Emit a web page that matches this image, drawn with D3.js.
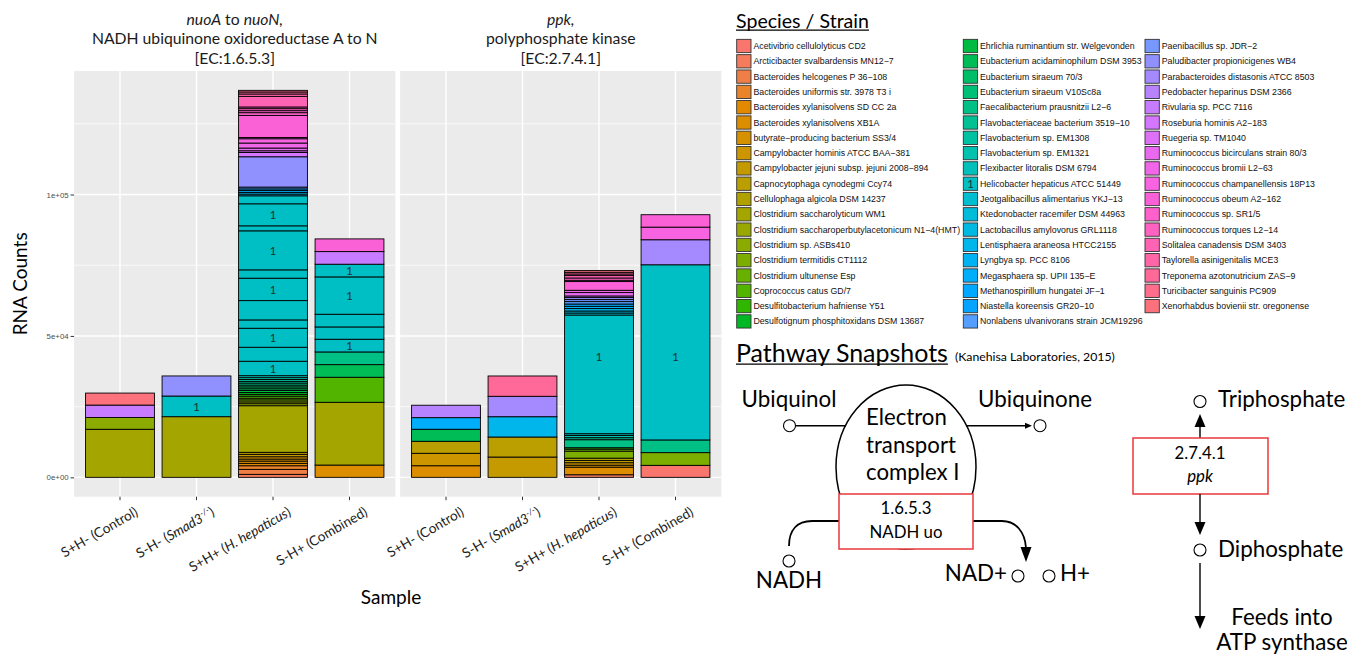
<!DOCTYPE html>
<html>
<head>
<meta charset="utf-8">
<script src="https://cdn.jsdelivr.net/npm/d3@7"></script>
<style>
  html, body { margin: 0; padding: 0; background: #fff; }
  svg { display: block; }
</style>
</head>
<body>
<svg id="fig" width="1347" height="656"></svg>
<script>
// ---------------------------------------------------------------
// Species (fill levels, in legend order)
const species = [
  "Acetivibrio cellulolyticus CD2",
  "Arcticibacter svalbardensis MN12\u22127",
  "Bacteroides helcogenes P 36\u2212108",
  "Bacteroides uniformis str. 3978 T3 i",
  "Bacteroides xylanisolvens SD CC 2a",
  "Bacteroides xylanisolvens XB1A",
  "butyrate\u2212producing bacterium SS3/4",
  "Campylobacter hominis ATCC BAA\u2212381",
  "Campylobacter jejuni subsp. jejuni 2008\u2212894",
  "Capnocytophaga cynodegmi Ccy74",
  "Cellulophaga algicola DSM 14237",
  "Clostridium saccharolyticum WM1",
  "Clostridium saccharoperbutylacetonicum N1\u22124(HMT)",
  "Clostridium sp. ASBs410",
  "Clostridium termitidis CT1112",
  "Clostridium ultunense Esp",
  "Coprococcus catus GD/7",
  "Desulfitobacterium hafniense Y51",
  "Desulfotignum phosphitoxidans DSM 13687",
  "Ehrlichia ruminantium str. Welgevonden",
  "Eubacterium acidaminophilum DSM 3953",
  "Eubacterium siraeum 70/3",
  "Eubacterium siraeum V10Sc8a",
  "Faecalibacterium prausnitzii L2\u22126",
  "Flavobacteriaceae bacterium 3519\u221210",
  "Flavobacterium sp. EM1308",
  "Flavobacterium sp. EM1321",
  "Flexibacter litoralis DSM 6794",
  "Helicobacter hepaticus ATCC 51449",
  "Jeotgalibacillus alimentarius YKJ\u221213",
  "Ktedonobacter racemifer DSM 44963",
  "Lactobacillus amylovorus GRL1118",
  "Lentisphaera araneosa HTCC2155",
  "Lyngbya sp. PCC 8106",
  "Megasphaera sp. UPII 135\u2212E",
  "Methanospirillum hungatei JF\u22121",
  "Niastella koreensis GR20\u221210",
  "Nonlabens ulvanivorans strain JCM19296",
  "Paenibacillus sp. JDR\u22122",
  "Paludibacter propionicigenes WB4",
  "Parabacteroides distasonis ATCC 8503",
  "Pedobacter heparinus DSM 2366",
  "Rivularia sp. PCC 7116",
  "Roseburia hominis A2\u2212183",
  "Ruegeria sp. TM1040",
  "Ruminococcus bicirculans strain 80/3",
  "Ruminococcus bromii L2\u221263",
  "Ruminococcus champanellensis 18P13",
  "Ruminococcus obeum A2\u2212162",
  "Ruminococcus sp. SR1/5",
  "Ruminococcus torques L2\u221214",
  "Solitalea canadensis DSM 3403",
  "Taylorella asinigenitalis MCE3",
  "Treponema azotonutricium ZAS\u22129",
  "Turicibacter sanguinis PC909",
  "Xenorhabdus bovienii str. oregonense"
];
const labelledSpecies = 28;   // Helicobacter hepaticus, marked "1"

// Samples (x categories)
const samples = ["S+H- (Control)", "S-H- (Smad3-/-)", "S+H+ (H. hepaticus)", "S-H+ (Combined)"];

// Y axis ticks
const yTicks = [0, 50000, 100000];
const yTickLabels = ["0e+00", "5e+04", "1e+05"];
const yMinorTicks = [25000, 75000, 125000];

// RNA counts per sample, one row per gene/species record, bottom to top:
// [species index, count, label]  label: true = centred "1", number = "1" at that count
const nuoControl = [[11,17000],[13,4150],[42,4400],[55,4250]];
const nuoSmad = [[11,21450],[28,7300,true],[39,7100]];
const nuoHh = [
  [1,1060],[2,1770],[3,1270],[4,850],[5,810],[6,710],[7,810],[8,850],[9,710],[11,16490],
  [12,710],[13,640],[14,710],[15,600],[16,710],[17,640],[18,670],[19,710],[20,600],[21,670],
  [22,640],[23,710],[24,600],[25,670],[26,640],[27,700],
  [28,5100,true],[28,4950],[28,6720,true],[28,2940],[28,6830],[28,7930,true],[28,2940],
  [28,13800,true],[28,1770],[28,7790,true],[28,2830],
  [31,600],[33,600],[34,640],[35,600],[37,640],[39,10720],
  [43,1520],[44,600],[45,960],[46,1770],[47,1520],[47,460],[48,7790],[49,960],[49,710],
  [50,710],[50,600],[51,3750],[52,850],[53,710],[54,570]
];
const nuoCombined = [[5,4350],[11,22190],[16,8850],[20,4460],[23,4490],[28,4490,true],[28,4350],
  [28,4490],[28,13200,true],[28,4490,true],[42,4460],[48,4490]];

const ppkControl = [[5,4110],[7,4390],[9,4250],[20,4250],[34,4110],[41,4390]];
const ppkSmad = [[8,7180],[9,7080],[32,7180],[40,7220],[53,7180]];
const ppkHh = [
  [1,920],[5,2690],[6,710],[7,850],[9,810],[10,810],[14,2480],[15,710],[17,500],[23,2830],
  [24,710],[26,810],[27,600],[28,41970,42600],[29,710],[30,710],[32,850],[33,810],[35,810],
  [37,850],[38,710],[39,710],[43,570],[45,1200],[46,810],[48,3080],[49,460],[50,810],
  [51,850],[52,570],[53,600],[55,600]
];
const ppkCombined = [[0,4250],[14,4490],[23,4490],[28,61930,42500],[40,8850],[47,4460],[48,4390]];

const nuoBars = [nuoControl, nuoSmad, nuoHh, nuoCombined];
const ppkBars = [ppkControl, ppkSmad, ppkHh, ppkCombined];

// Facet titles: [text, italic?] runs per line
const nuoTitle = [[["nuoA", true], [" to "], ["nuoN,", true]], [["NADH ubiquinone oxidoreductase A to N"]], [["[EC:1.6.5.3]"]]];
const ppkTitle = [[["ppk,", true]], [["polyphosphate kinase"]], [["[EC:2.7.4.1]"]]];

// Sample axis labels as styled runs: [text, style] (i = italic, sup = superscript)
const sampleRuns = [
  [["S+H- (Control)"]],
  [["S-H- ("], ["Smad3", "i"], ["-/-", "sup"], [")"]],
  [["S+H+ ("], ["H. hepaticus", "i"], [")"]],
  [["S-H+ (Combined)"]]
];

// ---------------------------------------------------------------
// ggplot2-style hue palette (polar Luv, as grDevices::hcl)
function hclLuv(h, c, l) {
  const WY = 100, Wu = 0.1978398, Wv = 0.4683363;
  const hr = h * Math.PI / 180;
  const U = c * Math.cos(hr), V = c * Math.sin(hr);
  const Y = WY * (l > 7.999592 ? Math.pow((l + 16) / 116, 3) : l / 903.3);
  const u = U / (13 * l) + Wu, v = V / (13 * l) + Wv;
  const X = 9 * Y * u / (4 * v);
  const Z = -X / 3 - 5 * Y + 3 * Y / v;
  const g = t => t > 0.00304 ? 1.055 * Math.pow(t, 1 / 2.4) - 0.055 : 12.92 * t;
  const cl = t => Math.max(0, Math.min(255, Math.round(255 * g(t))));
  const r = cl(( 3.240479 * X - 1.537150 * Y - 0.498535 * Z) / WY);
  const gg = cl((-0.969256 * X + 1.875992 * Y + 0.041556 * Z) / WY);
  const b = cl(( 0.055648 * X - 0.204043 * Y + 1.057311 * Z) / WY);
  return d3.rgb(r, gg, b).formatHex();
}
const hues = d3.range(species.length).map(i => 15 + 360 * i / species.length);
const fill = d3.scaleOrdinal().domain(d3.range(species.length)).range(hues.map(h => hclLuv(h, 100, 65)));

// ---------------------------------------------------------------
const svg = d3.select("#fig");
const FONT = "Lato, 'Open Sans', sans-serif";
const SANS = "'Liberation Sans', Arial, sans-serif";

// font size that gives a string a certain rendered width
const meas = svg.append("text").attr("x", -1000).attr("y", -1000);
function fitSize(str, family, width, style) {
  meas.attr("font-family", family).attr("font-size", 100).attr("font-style", style || "normal").text(str);
  return 100 * width / meas.node().getComputedTextLength();
}
const stripFS = fitSize("NADH ubiquinone oxidoreductase A to N", FONT, 286);
const axisTitleFS = fitSize("RNA Counts", FONT, 103);
const tickFS = fitSize("S+H- (Control)", FONT, 86);
const yTickFS = fitSize("1e+05", SANS, 22);
const legTitleFS = fitSize("Species / Strain", FONT, 133);
const legLabelFS = fitSize(species[12], SANS, 207);
const pathTitleFS = fitSize("Pathway Snapshots", FONT, 212);
const kanFS = fitSize("(Kanehisa Laboratories, 2015)", FONT, 160);
const diagFS = fitSize("Ubiquinone", FONT, 114);
const etcFS = fitSize("transport", FONT, 90);
const boxFS = fitSize("NADH uo", FONT, 73);
meas.remove();

// ---------------------------------------------------------------
// Faceted stacked bars
const panelTop = 71, panelBottom = 496.7;
const panelRanges = [[74.1, 395.4], [400.1, 721.4]];
const allBars = nuoBars.concat(ppkBars);
const yMax = d3.max(allBars, b => d3.sum(b, s => s[1]));
const y = d3.scaleLinear().domain([-0.05 * yMax, 1.05 * yMax]).range([panelBottom, panelTop]);

const facets = [
  { title: nuoTitle, bars: nuoBars, range: panelRanges[0] },
  { title: ppkTitle, bars: ppkBars, range: panelRanges[1] }
];

facets.forEach((f, pi) => {
  const x = d3.scaleBand().domain(samples).range(f.range).paddingInner(0.1).paddingOuter(0.15);
  const g = svg.append("g");
  const [x0, x1] = f.range;

  g.append("rect").attr("x", x0).attr("y", panelTop).attr("width", x1 - x0)
    .attr("height", panelBottom - panelTop).attr("fill", "#EBEBEB");

  g.selectAll("line.minor").data(yMinorTicks).join("line")
    .attr("x1", x0).attr("x2", x1).attr("y1", d => y(d)).attr("y2", d => y(d))
    .attr("stroke", "#fff").attr("stroke-width", 0.7);
  g.selectAll("line.major").data(yTicks).join("line")
    .attr("x1", x0).attr("x2", x1).attr("y1", d => y(d)).attr("y2", d => y(d))
    .attr("stroke", "#fff").attr("stroke-width", 1.4);
  g.selectAll("line.vmajor").data(samples).join("line")
    .attr("x1", d => x(d) + x.bandwidth() / 2).attr("x2", d => x(d) + x.bandwidth() / 2)
    .attr("y1", panelTop).attr("y2", panelBottom)
    .attr("stroke", "#fff").attr("stroke-width", 1.4);

  // bars
  f.bars.forEach((segs, si) => {
    const ends = Array.from(d3.cumsum(segs, s => s[1]));
    const rows = segs.map((s, k) => ({ sp: s[0], v: s[1], lab: s[2], y0: ends[k] - s[1], y1: ends[k] }));
    const bg = g.append("g");
    bg.selectAll("rect").data(rows).join("rect")
      .attr("x", x(samples[si])).attr("width", x.bandwidth())
      .attr("y", d => y(d.y1)).attr("height", d => y(d.y0) - y(d.y1))
      .attr("fill", d => fill(d.sp))
      .attr("stroke", "#000").attr("stroke-width", 0.9);
    bg.selectAll("text").data(rows.filter(d => d.lab)).join("text")
      .attr("x", x(samples[si]) + x.bandwidth() / 2)
      .attr("y", d => y(typeof d.lab === "number" ? d.lab : (d.y0 + d.y1) / 2))
      .attr("dy", "0.36em").attr("text-anchor", "middle")
      .attr("font-family", FONT).attr("font-size", 12).attr("fill", "#1d3535")
      .text("1");
  });

  // x axis ticks
  const xAxis = d3.axisBottom(x).tickSize(3.5).tickSizeOuter(0).tickFormat("");
  const ax = svg.append("g").attr("transform", `translate(0,${panelBottom})`).call(xAxis);
  ax.select(".domain").remove();
  ax.selectAll("line").attr("stroke", "#333").attr("stroke-width", 1);

  // rotated sample labels
  samples.forEach((s, si) => {
    const cx = x(s) + x.bandwidth() / 2;
    const t = svg.append("text")
      .attr("transform", `translate(${cx + 19},${panelBottom + 18}) rotate(-30)`)
      .attr("text-anchor", "end").attr("font-family", FONT).attr("font-size", tickFS)
      .attr("fill", "#222");
    let lift = 0;
    sampleRuns[si].forEach(r => {
      const ts = t.append("tspan").text(r[0]);
      if (r[1] === "i" || r[1] === "sup") ts.attr("font-style", "italic");
      if (r[1] === "sup") { ts.attr("font-size", tickFS * 0.62).attr("dy", -tickFS * 0.38); lift = tickFS * 0.38; }
      else if (lift) { ts.attr("dy", lift); lift = 0; }
    });
  });

  // facet title
  const cx = (x0 + x1) / 2;
  f.title.forEach((line, li) => {
    const t = svg.append("text").attr("x", cx).attr("y", 25 + li * 19.4)
      .attr("text-anchor", "middle").attr("font-family", FONT).attr("font-size", stripFS)
      .attr("fill", "#1a1a1a");
    line.forEach(r => {
      const ts = t.append("tspan").text(r[0]);
      if (r[1]) ts.attr("font-style", "italic");
    });
  });

  // y axis on first facet only
  if (pi === 0) {
    const yAxis = d3.axisLeft(y).tickValues(yTicks).tickFormat((d, i) => yTickLabels[i])
      .tickSize(3.5).tickPadding(2);
    const ay = svg.append("g").attr("transform", `translate(${x0},0)`).call(yAxis);
    ay.select(".domain").remove();
    ay.selectAll("line").attr("stroke", "#333");
    ay.selectAll("text").attr("font-family", SANS).attr("font-size", yTickFS).attr("fill", "#4D4D4D");
  }
});

// axis titles
svg.append("text").attr("transform", `translate(27,${(panelTop + panelBottom) / 2}) rotate(-90)`)
  .attr("text-anchor", "middle").attr("font-family", FONT).attr("font-size", axisTitleFS)
  .attr("fill", "#000").text("RNA Counts");
svg.append("text").attr("x", 391).attr("y", 604)
  .attr("text-anchor", "middle").attr("font-family", FONT).attr("font-size", axisTitleFS)
  .attr("fill", "#000").text("Sample");

// ---------------------------------------------------------------
// Legend
function underlinedTitle(x, yb, str, fs) {
  const t = svg.append("text").attr("x", x).attr("y", yb).attr("font-family", FONT)
    .attr("font-size", fs).attr("fill", "#000").text(str);
  const w = t.node().getComputedTextLength();
  svg.append("line").attr("x1", x).attr("x2", x + w).attr("y1", yb + 2.6).attr("y2", yb + 2.6)
    .attr("stroke", "#000").attr("stroke-width", 1.3);
  return w;
}
underlinedTitle(736, 27.5, "Species / Strain", legTitleFS);

const colStarts = [0, 19, 38];
const colX = [736.7, 963.3, 1145];
const keyW = 14.3, rowH = 15.3, firstRow = 46;
const leg = svg.append("g");
species.forEach((name, i) => {
  const col = i < 19 ? 0 : (i < 38 ? 1 : 2);
  const row = i - colStarts[col];
  const cy = firstRow + row * rowH;
  leg.append("rect").attr("x", colX[col]).attr("y", cy - keyW / 2 + 0.5)
    .attr("width", keyW).attr("height", keyW - 1)
    .attr("fill", fill(i)).attr("stroke", "#333").attr("stroke-width", 0.9);
  if (i === labelledSpecies) {
    leg.append("text").attr("x", colX[col] + keyW / 2).attr("y", cy).attr("dy", "0.36em")
      .attr("text-anchor", "middle").attr("font-family", FONT).attr("font-size", 12)
      .attr("fill", "#1d3535").text("1");
  }
  leg.append("text").attr("x", colX[col] + keyW + 2.4).attr("y", cy).attr("dy", "0.35em")
    .attr("font-family", SANS).attr("font-size", legLabelFS).attr("fill", "#111").text(name);
});

// ---------------------------------------------------------------
// Pathway snapshots
const pw = underlinedTitle(736, 361.5, "Pathway Snapshots", pathTitleFS);
svg.append("text").attr("x", 736 + pw + 7).attr("y", 360.5).attr("font-family", FONT)
  .attr("font-size", kanFS).attr("fill", "#000").text("(Kanehisa Laboratories, 2015)");

const dg = svg.append("g");
const ink = "#000", red = "#E8383D";
function txt(x, yb, str, fs, anchor, italic) {
  return dg.append("text").attr("x", x).attr("y", yb).attr("font-family", FONT)
    .attr("font-size", fs).attr("text-anchor", anchor || "start")
    .attr("font-style", italic ? "italic" : "normal").attr("fill", ink).text(str);
}
function circ(cx, cy) {
  dg.append("circle").attr("cx", cx).attr("cy", cy).attr("r", 6)
    .attr("fill", "#fff").attr("stroke", ink).attr("stroke-width", 1.1);
}
function line(pts) {
  dg.append("path").attr("d", d3.line()(pts)).attr("fill", "none")
    .attr("stroke", ink).attr("stroke-width", 1.4);
}
function head(tx, ty, dir, len, wid) {
  // dir: "r", "u", "d"
  let p;
  if (dir === "r") p = [[tx, ty], [tx - len, ty - wid / 2], [tx - len, ty + wid / 2]];
  else if (dir === "u") p = [[tx, ty], [tx - wid / 2, ty + len], [tx + wid / 2, ty + len]];
  else p = [[tx, ty], [tx - wid / 2, ty - len], [tx + wid / 2, ty - len]];
  dg.append("path").attr("d", d3.line()(p) + "Z").attr("fill", ink);
}

// complex I
dg.append("ellipse").attr("cx", 906).attr("cy", 467).attr("rx", 70).attr("ry", 82)
  .attr("fill", "#fff").attr("stroke", ink).attr("stroke-width", 1.5);
line([[796, 425.7], [846, 425.7]]);
line([[966, 425.7], [1027, 425.7]]);
head(1032, 425.7, "r", 7, 6);
circ(789.5, 425.7);
circ(1040, 425.7);
txt(789, 407, "Ubiquinol", diagFS, "middle");
txt(1035, 407, "Ubiquinone", diagFS, "middle");
txt(866, 425, "Electron", etcFS);
txt(866, 452.5, "transport", etcFS);
txt(866, 480, "complex I", etcFS);

// NADH -> NAD+ curves
dg.append("path").attr("d", "M839,521 L812,521 C797,521 789,530 789,546")
  .attr("fill", "none").attr("stroke", ink).attr("stroke-width", 1.8);
dg.append("path").attr("d", "M973,521 L1002,521 C1016,521 1025,532 1026,548")
  .attr("fill", "none").attr("stroke", ink).attr("stroke-width", 1.8);
head(1026, 562, "d", 15, 11);
dg.append("rect").attr("x", 839).attr("y", 494).attr("width", 134).attr("height", 55)
  .attr("fill", "#fff").attr("stroke", red).attr("stroke-width", 1.5);
txt(906, 514, "1.6.5.3", boxFS, "middle");
txt(906, 537.5, "NADH uo", boxFS, "middle");
circ(789, 561);
txt(789, 588, "NADH", diagFS, "middle");
circ(1018, 576);
circ(1049, 576);
txt(1007, 581, "NAD+", diagFS, "end");
txt(1060, 581, "H+", diagFS);

// polyphosphate kinase
circ(1200, 401.5);
txt(1218, 407, "Triphosphate", diagFS);
line([[1200, 438], [1200, 425]]);
head(1200, 414, "u", 13, 11);
dg.append("rect").attr("x", 1133).attr("y", 438).attr("width", 135).attr("height", 56)
  .attr("fill", "#fff").attr("stroke", red).attr("stroke-width", 1.5);
txt(1200, 459, "2.7.4.1", boxFS, "middle");
txt(1200, 482, "ppk", boxFS, "middle", true);
line([[1200, 494], [1200, 524]]);
head(1200, 535, "d", 13, 11);
circ(1200, 550);
txt(1218, 557, "Diphosphate", diagFS);
line([[1200, 563], [1200, 618]]);
head(1200, 629, "d", 13, 11);
txt(1282, 625, "Feeds into", diagFS, "middle");
txt(1282, 650, "ATP synthase", diagFS, "middle");
</script>
</body>
</html>
